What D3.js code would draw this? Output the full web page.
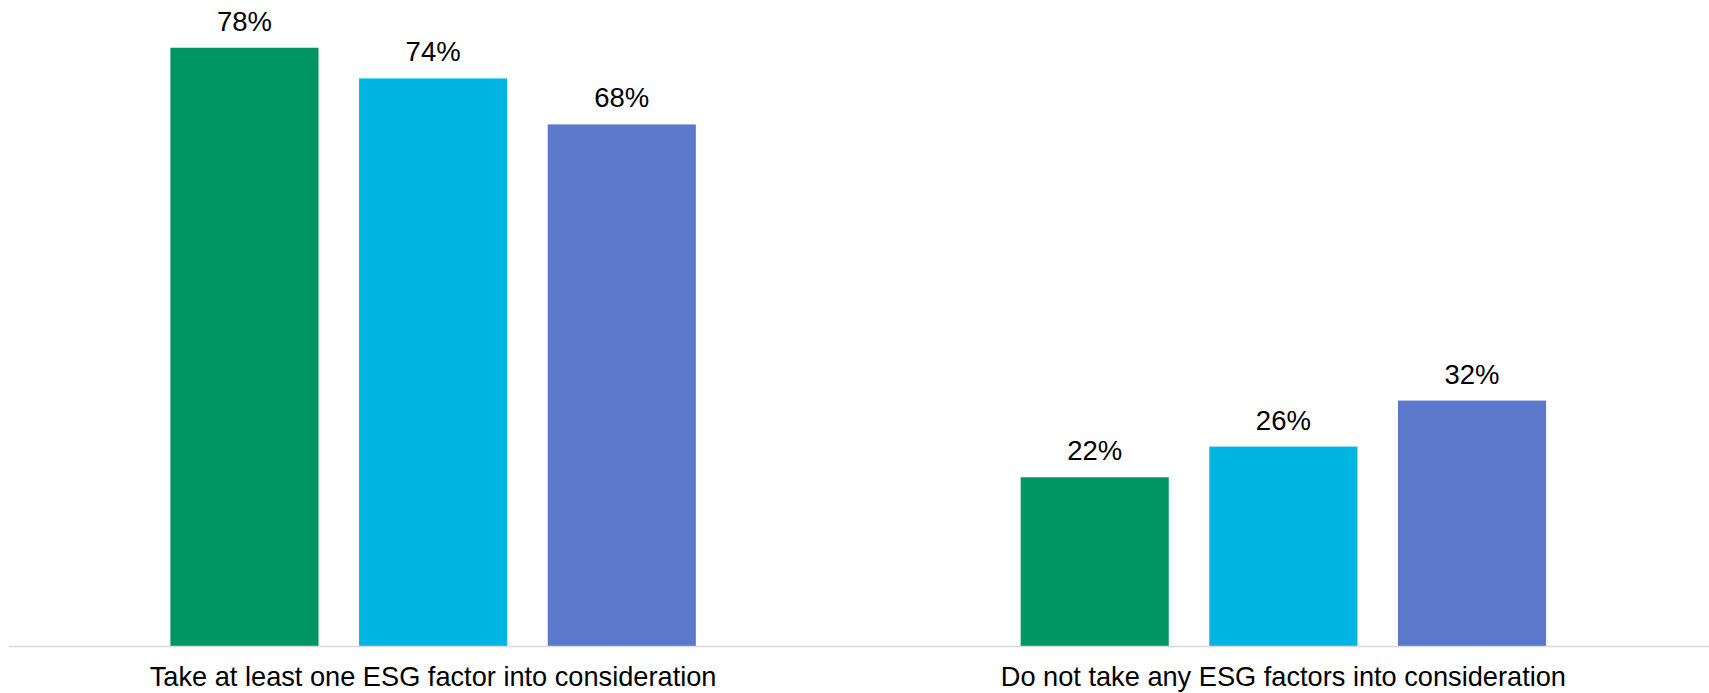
<!DOCTYPE html>
<html>
<head>
<meta charset="utf-8">
<script src="https://cdn.jsdelivr.net/npm/d3@7"></script>
<style>
  html, body { margin: 0; padding: 0; background: #ffffff; }
  svg { display: block; }
  text { font-family: "Liberation Sans", Arial, sans-serif; fill: #000; }
</style>
</head>
<body>
<svg id="chart" width="1709" height="693"></svg>
<script>
// Chart data
const categories = [
  "Take at least one ESG factor into consideration",
  "Do not take any ESG factors into consideration"
];
const seriesKeys = ["s1", "s2", "s3"];
const seriesColors = ["#009664", "#00B5E2", "#5B78CA"];
const s1Values = [78, 22];
const s2Values = [74, 26];
const s3Values = [68, 32];
const yDomain = [0, 80];

const seriesValues = [s1Values, s2Values, s3Values];
const rows = categories.map((c, i) => ({
  category: c,
  values: seriesKeys.map((k, j) => ({ key: k, value: seriesValues[j][i] }))
}));

const svg = d3.select("#chart");
const margin = { left: 8, right: 0.5, top: 32.4, bottom: 47 };
const width = 1709, height = 693;
const baseY = height - margin.bottom;

const x0 = d3.scaleBand()
  .domain(categories)
  .range([margin.left, width - margin.right])
  .paddingInner(0.382)
  .paddingOuter(0.191);

const x1 = d3.scaleBand()
  .domain(seriesKeys)
  .range([0, x0.bandwidth()])
  .paddingInner(0.215)
  .paddingOuter(0);

const y = d3.scaleLinear()
  .domain(yDomain)
  .range([baseY, margin.top]);

const color = d3.scaleOrdinal().domain(seriesKeys).range(seriesColors);

// Bars
const groups = svg.append("g")
  .selectAll("g")
  .data(rows)
  .join("g")
  .attr("transform", d => `translate(${x0(d.category)},0)`);

groups.selectAll("rect")
  .data(d => d.values)
  .join("rect")
  .attr("x", d => x1(d.key))
  .attr("y", d => y(d.value))
  .attr("width", x1.bandwidth())
  .attr("height", d => baseY - y(d.value))
  .attr("fill", d => color(d.key));

// Value labels
groups.selectAll("text.value")
  .data(d => d.values)
  .join("text")
  .attr("class", "value")
  .attr("x", d => x1(d.key) + x1.bandwidth() / 2)
  .attr("y", d => y(d.value) - 17)
  .attr("text-anchor", "middle")
  .style("font-size", "27.5px")
  .text(d => d.value + "%");

// Category axis
const xAxis = svg.append("g")
  .attr("transform", `translate(0,${baseY})`)
  .call(d3.axisBottom(x0).tickSize(0).tickPadding(0));

xAxis.select(".domain")
  .attr("stroke", "#d9d9d9")
  .attr("stroke-width", 1.5);

xAxis.selectAll(".tick text")
  .attr("dy", null)
  .attr("y", 40)
  .style("font-size", "27.2px")
  .style("font-family", "'Liberation Sans', Arial, sans-serif")
  .attr("fill", "#000");
</script>
</body>
</html>
